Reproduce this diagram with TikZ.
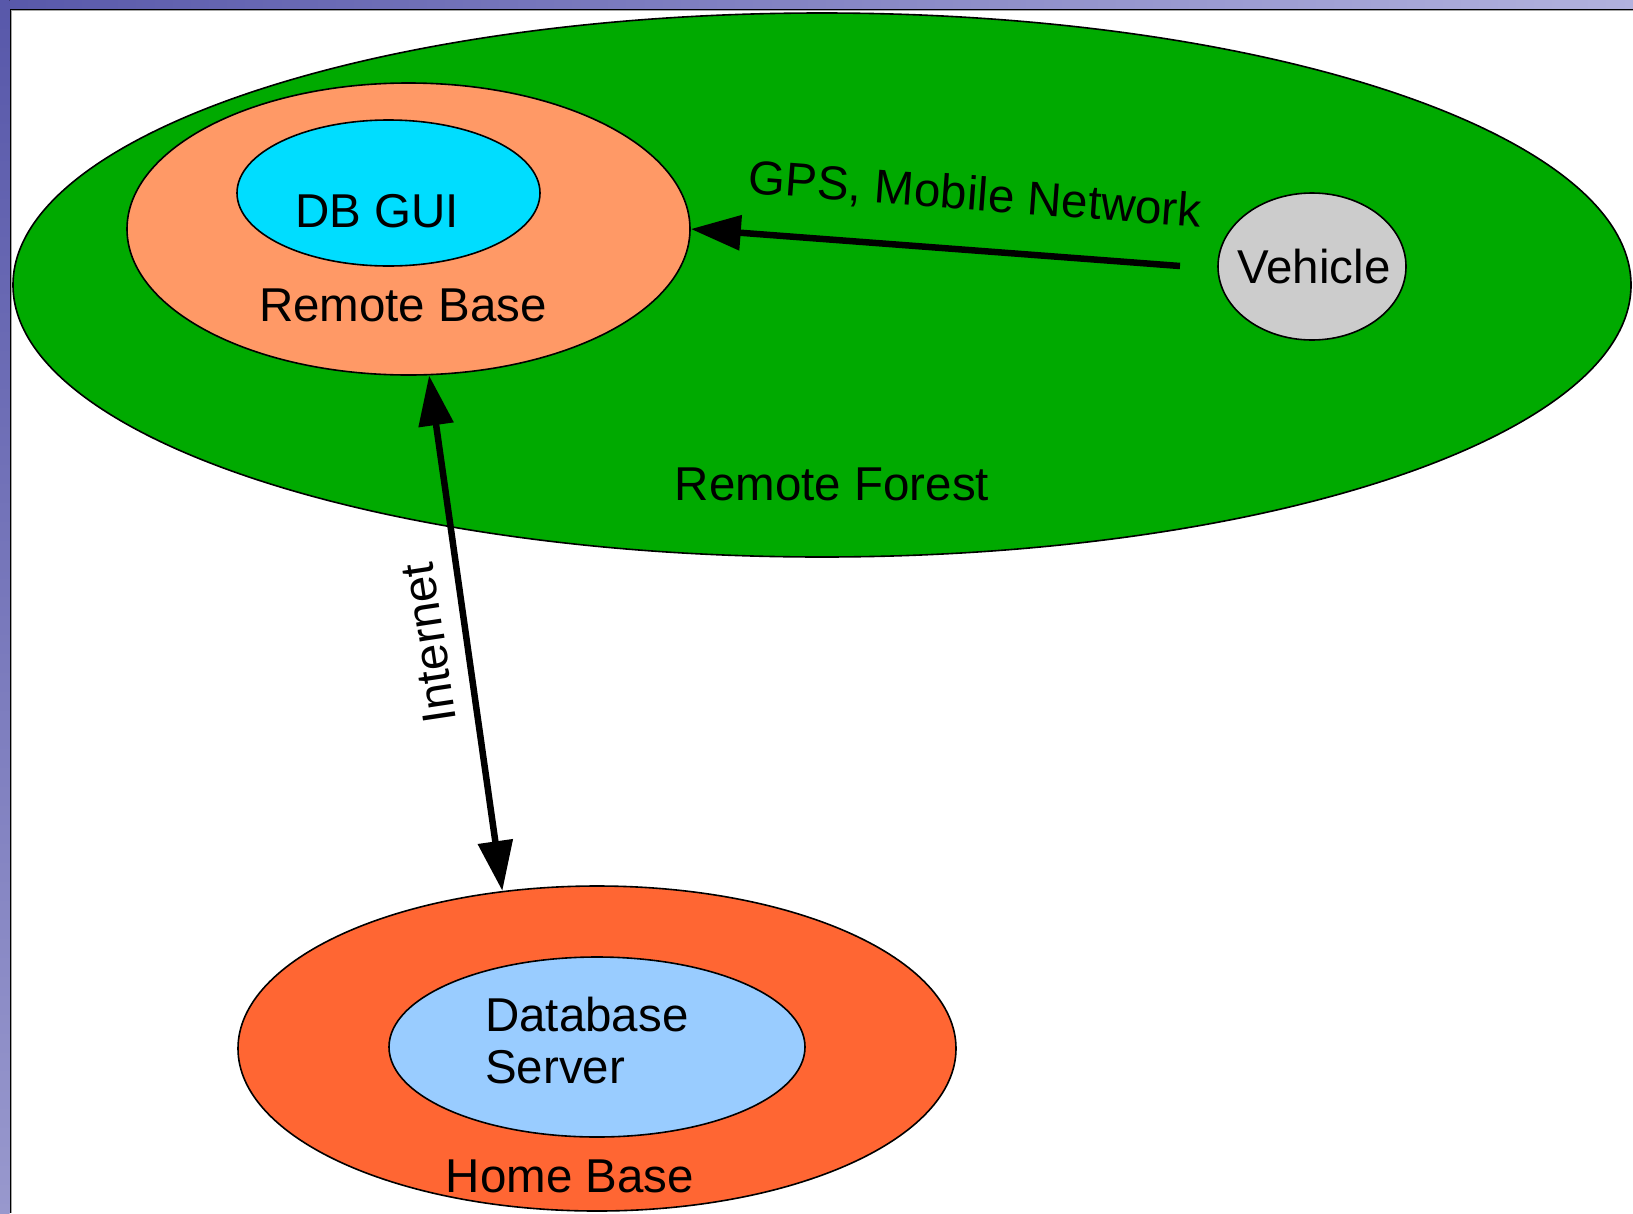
\documentclass[tikz,border=0pt]{standalone}
\usepackage{fontspec}
\setmainfont{Liberation Sans}
\usetikzlibrary{shapes.geometric,arrows.meta}

\definecolor{forestgreen}{RGB}{0,170,0}
\definecolor{remotepeach}{RGB}{255,153,102}
\definecolor{guicyan}{RGB}{0,221,255}
\definecolor{vehiclegray}{RGB}{204,204,204}
\definecolor{homeorange}{RGB}{255,102,51}
\definecolor{serverblue}{RGB}{153,204,255}
\definecolor{framedark}{RGB}{88,88,170}
\definecolor{framelight}{RGB}{178,178,222}
\definecolor{framemid}{RGB}{152,152,205}

\tikzset{bigtri/.tip={Triangle[length=50pt,width=34pt]}}

\begin{document}
\begin{tikzpicture}[x=1pt,y=-1pt,
  blob/.style={ellipse,draw=black,line width=1.6pt,inner sep=0pt},
  lbl/.style={font=\fontsize{47.5}{52}\selectfont,inner sep=0pt},
  link/.style={line width=6.5pt,draw=black}]

\useasboundingbox (0,0) rectangle (1633,1213);

% window frame: shaded title strip and side strip
\fill[left color=framedark,right color=framelight] (0,0) rectangle (1633,8.5);
\fill[top color=framedark,bottom color=framemid] (0,0) rectangle (9.5,1213);
\draw[line width=1pt,black] (10,1213) -- (10,9) -- (1633,9);
\draw[line width=1pt,gray!70] (11.5,1213) -- (11.5,10.5) -- (1633,10.5);

% areas
\node[blob,fill=forestgreen,minimum width=1618pt,minimum height=544pt] (forest) at (822,285) {};
\node[blob,fill=remotepeach,minimum width=563pt,minimum height=292pt] (rbase) at (408.5,229) {};
\node[blob,fill=guicyan,minimum width=303pt,minimum height=146pt] (dbgui) at (388.5,193) {};
\node[blob,fill=vehiclegray,minimum width=188pt,minimum height=147pt] (vehicle) at (1312,266.5) {};
\node[blob,fill=homeorange,minimum width=718pt,minimum height=325pt] (hbase) at (597,1048.5) {};
\node[blob,fill=serverblue,minimum width=416pt,minimum height=180pt] (dbserver) at (597,1047) {};

% labels
\node[lbl,anchor=base] (dbguitxt) at (377,227) {DB GUI};
\node[lbl,anchor=base] (rbasetxt) at (403,321) {Remote Base};
\node[lbl,anchor=base] (foresttxt) at (832,500) {Remote Forest};
\node[lbl,anchor=base] (vehicletxt) at (1314,283) {Vehicle};
\node[lbl,anchor=base west,align=left] (dbservertxt) at (485,1083) {Database\\Server};
\node[lbl,anchor=base] (hbasetxt) at (570,1192) {Home Base};
\node[lbl,rotate=-4.3] (gpstxt) at (975,196) {GPS, Mobile Network};
\node[lbl,rotate=98.5] (nettxt) at (429,643) {Internet};

% links
\coordinate (gpstail) at (1180,266);
\draw[link,-bigtri] (gpstail) -- (rbase.east);
\draw[link,bigtri-bigtri] (rbase.-82) -- (hbase.121);

\end{tikzpicture}
\end{document}
